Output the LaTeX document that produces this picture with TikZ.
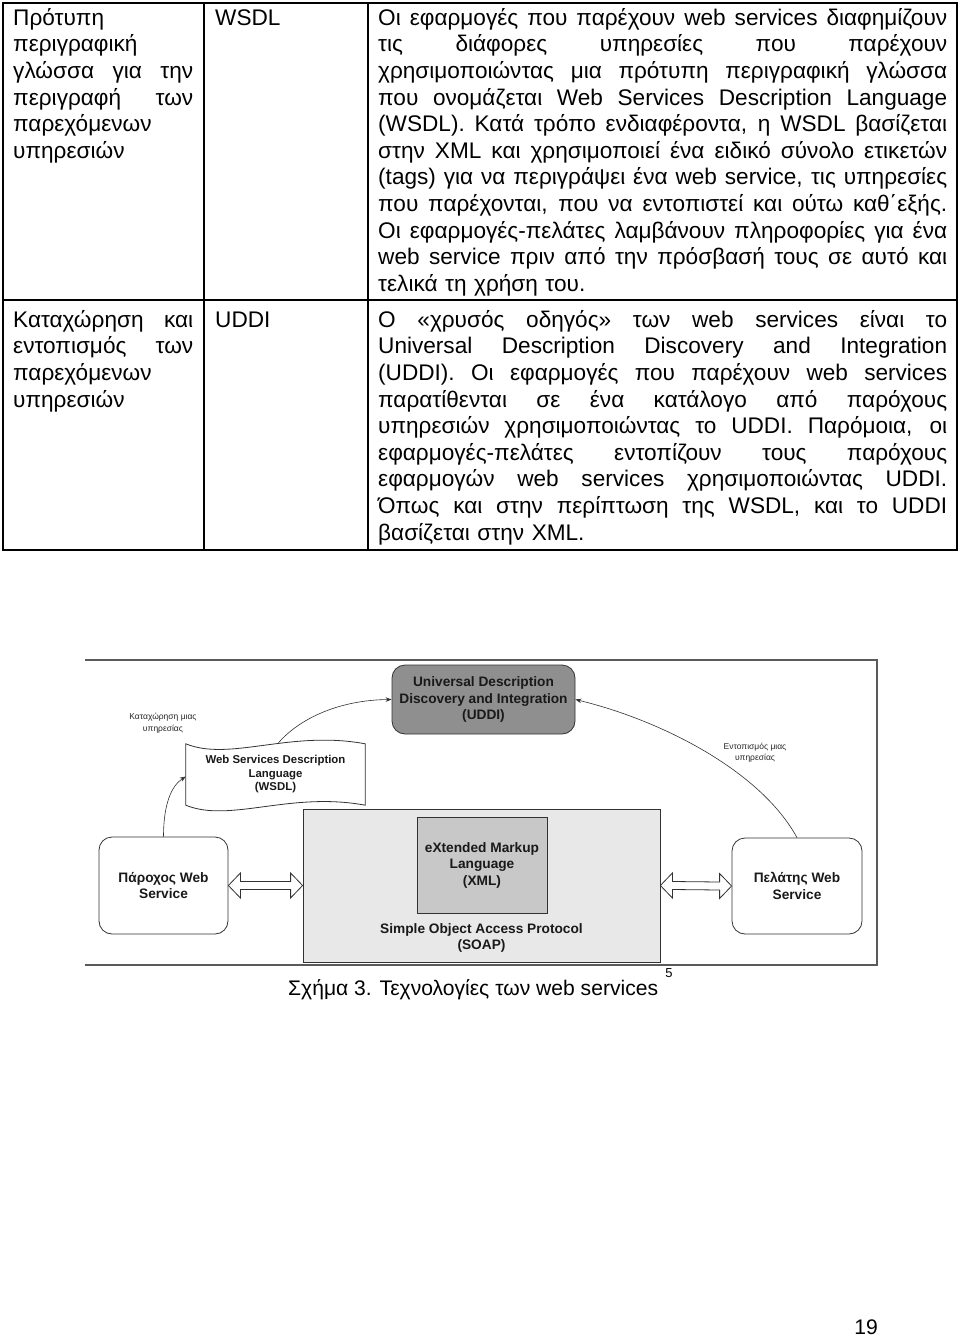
\documentclass[tikz,border=0pt]{standalone}
\usepackage{fontspec}
\setmainfont{Liberation Sans}
\usetikzlibrary{calc,arrows.meta}
\newlength\cellw
\newcommand\J[1]{\leavevmode\hbox to \cellw{\spaceskip=\fontdimen2\font plus 1fil\relax\strut #1}}
\newcommand\R[1]{\leavevmode\hbox to \cellw{\strut #1\hfil}}
\definecolor{uddifill}{RGB}{143,143,143}
\definecolor{soapfill}{RGB}{232,232,232}
\definecolor{xmlfill}{RGB}{200,200,200}
\definecolor{edge}{RGB}{50,50,50}
\definecolor{framec}{RGB}{90,90,90}
\begin{document}
\begin{tikzpicture}[x=1pt,y=-1pt,
  body/.style={anchor=north west, inner sep=0pt, text width=#1, font=\fontsize{22.6}{26.6}\selectfont,
    execute at begin node={\setlength{\parindent}{0pt}\setlength{\cellw}{#1}}},
  tline/.style={line width=1.6pt, black},
  framel/.style={line width=1.5pt, framec},
  box/.style={draw=edge, line width=0.8pt, inner sep=0pt, align=center, text=black!90,
    font=\bfseries\fontsize{13.7}{16.5}\selectfont},
  rbox/.style={box, rounded corners=13pt},
  small/.style={align=center, inner sep=0pt, text=black!85, font=\fontsize{8.5}{11.5}\selectfont},
  conn/.style={edge, line width=0.6pt, -{Stealth[length=6pt,width=4.5pt]}},
  hollow/.style={draw=edge, line width=0.8pt, fill=white, line join=miter}]
\useasboundingbox[fill=white] (0,0) rectangle (960,1337);

% ---------------- table ----------------
\draw[tline] (3,3) rectangle (957,550);
\draw[tline] (3,300) -- (957,300);
\draw[tline] (204,3) -- (204,550);
\draw[tline] (368,3) -- (368,550);

\node[body=180pt] (c11) at (13,6.4)
 {\R{Πρότυπη}\\\R{περιγραφική}\\\J{γλώσσα για την}\\\J{περιγραφή των}\\\R{παρεχόμενων}\\\R{υπηρεσιών}};
\node[body=140pt] (c12) at (215,6.4) {\R{WSDL}};
\node[body=569pt] (c13) at (378,6.4)
 {\J{Οι εφαρμογές που παρέχουν web services διαφημίζουν}\\
  \J{τις διάφορες υπηρεσίες που παρέχουν}\\
  \J{χρησιμοποιώντας μια πρότυπη περιγραφική γλώσσα}\\
  \J{που ονομάζεται Web Services Description Language}\\
  \J{(WSDL). Κατά τρόπο ενδιαφέροντα, η WSDL βασίζεται}\\
  \J{στην XML και χρησιμοποιεί ένα ειδικό σύνολο ετικετών}\\
  \J{(tags) για να περιγράψει ένα web service, τις υπηρεσίες}\\
  \J{που παρέχονται, που να εντοπιστεί και ούτω καθ΄εξής.}\\
  \J{Οι εφαρμογές-πελάτες λαμβάνουν πληροφορίες για ένα}\\
  \J{web service πριν από την πρόσβασή τους σε αυτό και}\\
  \R{τελικά τη χρήση του.}};

\node[body=180pt] (c21) at (13,308.4)
 {\J{Καταχώρηση και}\\\J{εντοπισμός των}\\\R{παρεχόμενων}\\\R{υπηρεσιών}};
\node[body=140pt] (c22) at (215,308.4) {\R{UDDI}};
\node[body=569pt] (c23) at (378,308.4)
 {\J{Ο «χρυσός οδηγός» των web services είναι το}\\
  \J{Universal Description Discovery and Integration}\\
  \J{(UDDI). Οι εφαρμογές που παρέχουν web services}\\
  \J{παρατίθενται σε ένα κατάλογο από παρόχους}\\
  \J{υπηρεσιών χρησιμοποιώντας το UDDI. Παρόμοια, οι}\\
  \J{εφαρμογές-πελάτες εντοπίζουν τους παρόχους}\\
  \J{εφαρμογών web services χρησιμοποιώντας UDDI.}\\
  \J{Όπως και στην περίπτωση της WSDL, και το UDDI}\\
  \R{βασίζεται στην XML.}};

% ---------------- figure ----------------
\draw[framel] (85,660) -- (877,660) -- (877,965) -- (85,965);

\node[rbox, fill=uddifill, minimum width=183pt, minimum height=69pt] (uddi) at (483.5,699.5)
 {Universal Description\\Discovery and Integration\\(UDDI)};

\node[inner sep=0pt, minimum width=179pt, minimum height=61pt, align=center, text=black!90,
  font=\bfseries\fontsize{11.4}{13.5}\selectfont] (wsdl) at (275.5,774.5)
 {Web Services Description\\Language\\(WSDL)};
\draw[edge, line width=0.8pt]
  (wsdl.north west) .. controls +(44,18) and +(-75,-14) .. (wsdl.north east)
  -- (wsdl.south east) .. controls +(-75,-14) and +(44,18) .. (wsdl.south west) -- cycle;
\coordinate (wtop) at ($(wsdl.north)+(3,-1)$);

\node[rbox, fill=soapfill, rounded corners=0pt, minimum width=357pt, minimum height=153pt] (soap) at (481.5,885.5) {};
\node[rbox, fill=xmlfill, rounded corners=0pt, minimum width=130pt, minimum height=96pt] (xml) at (482,865)
 {eXtended Markup\\Language\\(XML)};
\node[box, draw=none, fill=none] (soapt) at (481.5,938) {Simple Object Access Protocol\\(SOAP)};

\node[rbox, fill=white, minimum width=129pt, minimum height=97pt] (par) at (163.5,885.5) {Πάροχος Web\\Service};
\node[rbox, fill=white, minimum width=130pt, minimum height=96pt] (pel) at (797,886) {Πελάτης Web\\Service};

\node[small] (lreg) at (163,723) {Καταχώρηση μιας\\υπηρεσίας};
\node[small] (lfind) at (755,752.5) {Εντοπισμός μιας\\υπηρεσίας};

\draw[conn] (par.north) .. controls (163.5,805) and (171,786) .. ($(wsdl.west)+(0,2)$);
\draw[conn] (wtop) .. controls (300,718) and (340,700) .. (uddi.west);
\draw[conn] (pel.north) .. controls (760,770) and (660,720) .. (uddi.east);

\draw[hollow] (par.east) -- ++(12,-12.5) -- ++(0,8.5) -- ($(soap.west)+(-12,-4)$) -- ++(0,-8.5)
  -- (soap.west) -- ++(-12,12.5) -- ++(0,-8.5) -- ($(par.east)+(12,4)$) -- ++(0,8.5) -- cycle;
\draw[hollow] (soap.east) -- ++(12,-12.5) -- ++(0,8.5) -- ($(pel.west)+(-12,-4)$) -- ++(0,-8.5)
  -- (pel.west) -- ++(-12,12.5) -- ++(0,-8.5) -- ($(soap.east)+(12,4)$) -- ++(0,8.5) -- cycle;

% caption and page number
\node[anchor=base west, inner sep=0pt, font=\fontsize{21.1}{25}\selectfont] (cap) at (288,995)
 {Σχήμα 3. Τεχνολογίες των web services};
\node[inner sep=0pt, font=\fontsize{13}{15}\selectfont] (fn) at (669,973) {5};
\node[anchor=base, inner sep=0pt, font=\fontsize{21.1}{25}\selectfont] (pg) at (866,1334) {19};
\end{tikzpicture}
\end{document}
